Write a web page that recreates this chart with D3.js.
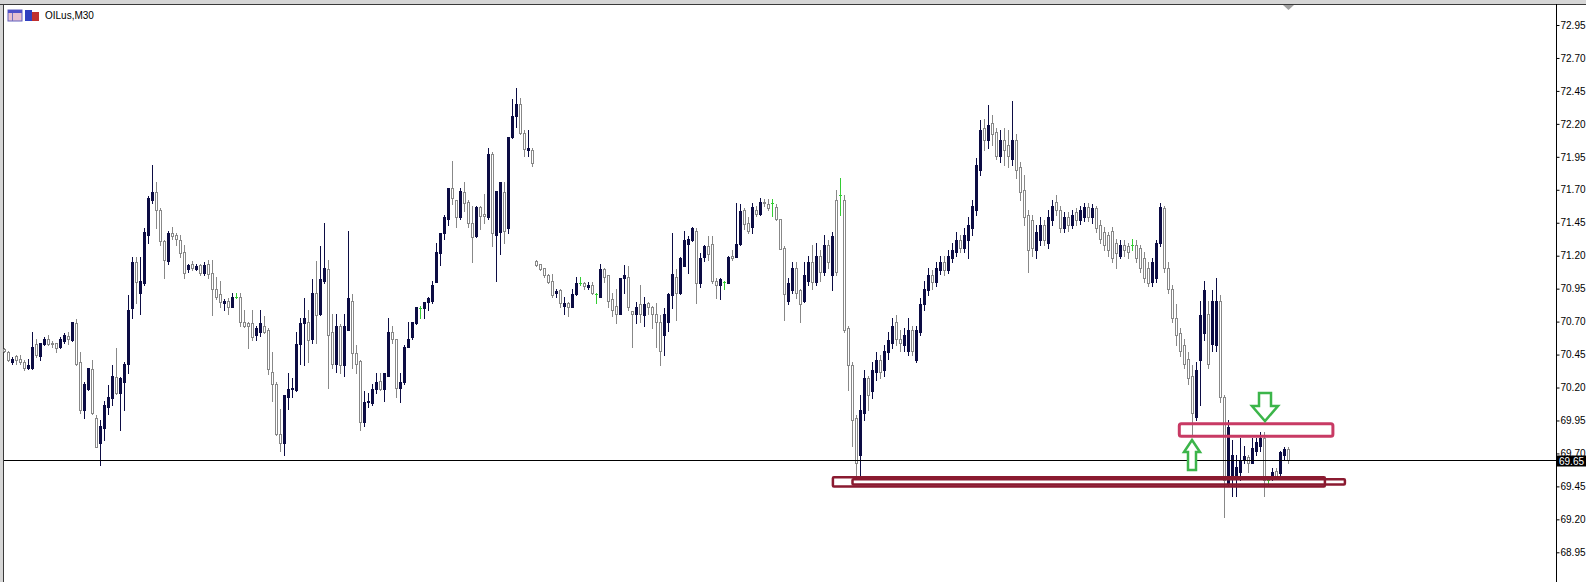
<!DOCTYPE html>
<html><head><meta charset="utf-8">
<script src="https://cdn.jsdelivr.net/npm/d3@7"></script>
<style>html,body{margin:0;padding:0;background:#fff;overflow:hidden}</style>
</head><body>
<svg id="c" width="1586" height="582"></svg>
<script>
const symbolLabel = "OILus,M30";
const lastPrice = 69.65;
const priceTicks = [72.95,72.70,72.45,72.20,71.95,71.70,71.45,71.20,70.95,70.70,70.45,70.20,69.95,69.70,69.45,69.20,68.95];

const opens = [
70.49,70.47,70.39,70.44,70.42,70.39,70.35,70.35,70.53,70.44,
70.53,70.57,70.54,70.54,70.51,70.55,70.59,70.56,70.69,70.39,
70.03,70.19,70.34,69.97,69.78,69.89,70.05,70.12,70.28,70.16,
70.24,70.38,70.80,71.15,70.92,70.99,71.36,71.62,71.68,71.55,
71.31,71.16,71.37,71.36,71.32,71.23,71.10,71.14,71.10,71.13,
71.07,71.14,71.07,70.95,70.91,70.84,70.86,70.81,70.89,70.89,
70.70,70.69,70.69,70.60,70.62,70.67,70.64,70.32,70.23,69.85,
69.78,70.13,70.19,70.18,70.53,70.69,70.70,70.57,70.92,70.76,
71.01,71.10,70.62,70.38,70.67,70.37,70.64,70.86,70.46,70.40,
69.94,70.09,70.08,70.19,70.25,70.19,70.29,70.62,70.57,70.20,
70.24,70.51,70.58,70.69,70.80,70.80,70.85,70.86,71.00,71.22,
71.37,71.48,71.71,71.62,71.49,71.68,71.61,71.45,71.35,71.57,
71.52,71.49,71.97,71.36,71.38,71.68,71.41,72.10,72.26,72.35,
72.13,72.00,72.00,71.16,71.14,71.11,71.05,71.01,70.92,70.94,
70.82,70.84,70.81,70.91,70.99,70.99,70.96,70.98,70.91,70.89,
71.10,71.05,70.87,70.82,70.76,71.03,71.04,70.78,70.76,70.83,
70.75,70.84,70.81,70.76,70.70,70.60,70.70,70.90,71.04,70.92,
71.12,71.29,71.32,71.39,70.99,71.19,71.27,71.29,71.01,70.98,
71.00,70.99,71.20,71.19,71.29,71.55,71.45,71.42,71.55,71.52,
71.61,71.59,71.60,71.57,71.48,71.26,70.86,70.94,71.11,70.94,
70.86,71.01,71.15,71.00,71.20,71.08,71.28,71.05,71.62,71.66,
71.62,70.65,70.37,69.97,69.69,70.01,70.27,70.17,70.32,70.41,
70.33,70.47,70.54,70.70,70.57,70.52,70.48,70.64,70.41,70.62,
70.83,70.94,71.05,71.00,71.09,71.15,71.09,71.18,71.23,71.32,
71.26,71.32,71.41,71.55,71.85,72.17,72.08,72.21,72.14,71.96,
72.08,72.04,71.93,72.08,71.87,71.70,71.51,71.47,71.24,71.32,
71.43,71.30,71.47,71.61,71.55,71.41,71.49,71.43,71.53,71.47,
71.49,71.57,71.49,71.56,71.43,71.38,71.36,71.39,71.30,71.20,
71.28,71.27,71.28,71.28,71.26,71.18,71.11,71.00,71.03,71.30,
71.56,71.11,70.95,70.73,70.61,70.52,70.42,70.29,69.98,70.41,
70.61,70.76,70.53,70.52,70.86,70.13,69.47,69.53,69.52,69.56,
69.65,69.67,69.63,69.72,69.76,69.82,69.50,69.52,69.57,69.55,
69.69,69.73];

const highs = [
70.50,70.48,70.43,70.45,70.45,70.41,70.42,70.62,70.57,70.54,
70.58,70.60,70.55,70.54,70.58,70.61,70.62,70.70,70.72,70.47,
70.24,70.35,70.41,69.99,69.95,70.10,70.22,70.37,70.50,70.28,
70.39,70.90,71.19,71.19,71.19,71.41,71.65,71.89,71.76,71.56,
71.32,71.39,71.42,71.37,71.36,71.28,71.14,71.16,71.14,71.14,
71.15,71.17,71.17,71.04,71.01,70.87,70.88,70.92,70.92,70.92,
70.79,70.70,70.79,70.67,70.79,70.74,70.65,70.47,70.24,70.04,
70.14,70.31,70.27,70.62,70.73,70.88,70.79,71.02,71.16,71.27,
71.45,71.17,70.76,70.76,70.68,70.76,71.39,70.91,70.52,70.41,
70.17,70.16,70.23,70.31,70.31,70.31,70.73,70.67,70.57,70.31,
70.52,70.70,70.70,70.81,70.82,70.85,70.89,71.01,71.30,71.37,
71.51,71.71,71.92,71.62,71.71,71.76,71.62,71.58,71.58,71.58,
71.67,72.02,71.99,71.69,71.76,71.76,72.10,72.39,72.47,72.40,
72.15,72.15,72.02,71.17,71.14,71.11,71.06,71.06,70.95,70.95,
70.89,70.85,70.95,71.04,71.04,71.00,71.00,71.00,70.92,71.14,
71.11,71.05,70.92,70.95,71.03,71.13,71.12,70.78,70.85,70.98,
70.89,70.85,70.82,70.84,70.75,70.80,70.92,71.37,71.10,71.19,
71.39,71.35,71.42,71.41,71.22,71.28,71.35,71.35,71.03,71.03,
71.01,71.20,71.24,71.60,71.59,71.56,71.49,71.60,71.58,71.64,
71.63,71.63,71.63,71.59,71.48,71.27,71.03,71.15,71.15,70.95,
71.15,71.20,71.28,71.30,71.24,71.36,71.32,71.38,71.70,71.79,
71.66,70.67,70.39,69.99,70.14,70.33,70.29,70.39,70.47,70.45,
70.52,70.62,70.73,70.75,70.64,70.65,70.73,70.67,70.67,70.88,
71.01,71.11,71.09,71.15,71.20,71.20,71.24,71.30,71.38,71.36,
71.41,71.49,71.62,71.94,72.23,72.24,72.34,72.27,72.17,72.15,
72.17,72.15,72.37,72.12,71.91,71.81,71.55,71.51,71.43,71.49,
71.47,71.55,71.62,71.66,71.58,71.53,71.53,71.55,71.56,71.58,
71.60,71.60,71.59,71.58,71.47,71.42,71.38,71.42,71.33,71.32,
71.32,71.30,71.33,71.32,71.28,71.23,71.15,71.18,71.32,71.60,
71.58,71.15,70.98,70.83,70.65,70.57,70.47,70.37,70.39,70.86,
71.01,70.86,70.94,71.03,70.90,70.14,69.95,69.80,69.69,69.82,
69.76,69.69,69.82,69.82,69.86,69.86,69.52,69.59,69.59,69.72,
69.75,69.75];

const lows = [
70.47,70.40,70.38,70.38,70.38,70.33,70.34,70.34,70.43,70.41,
70.52,70.52,70.51,70.47,70.50,70.54,70.53,70.55,70.37,70.01,
69.97,70.18,70.00,69.75,69.61,69.80,70.00,70.07,70.15,69.88,
70.03,70.31,70.73,70.84,70.76,70.98,71.30,71.60,71.41,71.28,
71.03,71.14,71.33,71.28,71.19,71.03,71.08,71.09,71.09,71.05,
71.05,71.03,70.75,70.87,70.81,70.79,70.76,70.81,70.88,70.67,
70.66,70.50,70.56,70.56,70.59,70.61,70.30,70.10,69.84,69.72,
69.69,70.04,70.13,70.17,70.38,70.37,70.39,70.54,70.54,70.75,
70.99,70.20,70.35,70.32,70.31,70.29,70.64,70.35,70.31,69.88,
69.91,70.05,70.07,70.16,70.18,70.10,70.29,70.54,70.13,70.09,
70.23,70.51,70.57,70.68,70.73,70.73,70.79,70.84,71.00,71.13,
71.33,71.43,71.59,71.42,71.48,71.54,71.42,71.15,71.34,71.40,
71.45,71.48,71.27,71.01,71.21,71.30,71.37,72.09,72.18,72.12,
71.96,71.96,71.88,71.12,71.09,71.04,70.99,70.89,70.89,70.81,
70.76,70.74,70.81,70.90,70.98,70.95,70.95,70.91,70.84,70.89,
71.00,70.81,70.74,70.69,70.76,70.92,70.79,70.51,70.69,70.70,
70.67,70.76,70.65,70.51,70.37,70.45,70.63,70.80,70.71,70.91,
71.12,71.07,71.31,70.84,70.96,71.16,71.17,70.99,70.88,70.87,
70.95,70.99,71.17,71.19,71.28,71.40,71.37,71.37,71.50,71.51,
71.58,71.55,71.50,71.47,71.25,70.71,70.83,70.92,70.88,70.70,
70.85,70.98,70.95,70.98,71.01,71.05,71.11,70.94,71.05,71.51,
70.62,70.18,69.76,69.51,69.53,69.95,70.03,70.12,70.26,70.27,
70.29,70.42,70.50,70.52,70.48,70.48,70.45,70.45,70.39,70.60,
70.79,70.90,70.95,70.97,71.06,71.05,71.07,71.15,71.20,71.23,
71.23,71.18,71.36,71.51,71.81,72.00,72.02,72.04,71.93,71.91,
71.89,71.87,71.89,71.79,71.62,71.43,71.08,71.20,71.18,71.28,
71.28,71.26,71.43,71.51,71.38,71.38,71.39,71.41,71.43,71.44,
71.46,71.46,71.45,71.38,71.30,71.24,71.20,71.15,71.11,71.18,
71.20,71.18,71.24,71.15,71.08,71.00,70.97,70.97,71.00,71.27,
71.08,70.92,70.70,70.52,70.44,70.35,70.23,69.85,69.95,70.07,
70.56,70.35,70.48,70.48,70.09,69.22,69.46,69.38,69.38,69.50,
69.63,69.56,69.63,69.69,69.72,69.38,69.46,69.50,69.51,69.52,
69.65,69.63];

const closes = [
70.48,70.41,70.42,70.41,70.39,70.35,70.37,70.51,70.45,70.54,
70.57,70.53,70.53,70.50,70.57,70.60,70.57,70.70,70.38,70.03,
70.23,70.35,70.01,69.75,69.91,70.07,70.13,70.29,70.16,70.27,
70.38,70.79,71.15,71.00,71.01,71.38,71.64,71.68,71.55,71.31,
71.17,71.37,71.35,71.33,71.22,71.07,71.13,71.11,71.12,71.07,
71.13,71.06,70.95,70.89,70.85,70.86,70.81,70.89,70.89,70.70,
70.67,70.67,70.58,70.65,70.69,70.62,70.34,70.23,69.85,69.78,
70.14,70.19,70.20,70.53,70.69,70.73,70.56,70.92,70.75,71.02,
71.11,70.60,70.38,70.67,70.37,70.67,70.88,70.46,70.38,69.94,
70.09,70.10,70.19,70.24,70.19,70.31,70.62,70.57,70.20,70.24,
70.51,70.57,70.70,70.81,70.80,70.85,70.88,70.98,71.23,71.37,
71.49,71.71,71.64,71.49,71.69,71.60,71.45,71.34,71.57,71.50,
71.50,71.97,71.37,71.69,71.76,71.39,72.10,72.26,72.35,72.13,
72.01,72.02,71.90,71.13,71.10,71.05,71.00,70.90,70.93,70.84,
70.84,70.81,70.91,70.99,70.99,70.97,70.98,70.92,70.91,71.10,
71.04,70.86,70.79,70.76,71.03,71.05,70.81,70.76,70.81,70.76,
70.83,70.81,70.76,70.70,70.48,70.76,70.91,71.06,70.92,71.18,
71.32,71.33,71.41,70.99,71.18,71.27,71.21,71.01,70.98,71.02,
71.00,71.19,71.18,71.29,71.54,71.44,71.39,71.57,71.52,71.61,
71.60,71.56,71.60,71.48,71.25,70.91,70.99,71.11,70.92,70.83,
71.05,71.15,71.00,71.20,71.08,71.28,71.15,71.35,71.08,71.66,
70.64,70.37,69.95,69.63,70.03,70.27,70.14,70.33,70.41,70.32,
70.48,70.56,70.67,70.57,70.54,70.60,70.64,70.48,70.64,70.83,
70.95,71.05,71.00,71.11,71.15,71.09,71.20,71.24,71.32,71.26,
71.36,71.43,71.58,71.89,72.15,72.08,72.19,72.12,71.96,72.08,
72.00,71.96,72.08,71.85,71.68,71.49,71.24,71.26,71.38,71.43,
71.32,71.49,71.58,71.55,71.41,71.49,71.43,71.51,71.47,71.55,
71.57,71.49,71.56,71.41,71.33,71.28,71.24,71.18,71.22,71.28,
71.24,71.23,71.28,71.18,71.11,71.03,70.99,71.15,71.30,71.57,
71.11,70.95,70.73,70.60,70.48,70.38,70.27,70.01,70.33,70.75,
70.94,70.38,70.86,70.86,70.13,69.50,69.90,69.69,69.60,69.65,
69.68,69.63,69.74,69.79,69.82,69.50,69.50,69.56,69.52,69.71,
69.73,69.65];

// Annotation drawings (bar index range / price range)
const supportZoneOuter = {from: 207.1, to: 330.1, top: 69.52, bottom: 69.45};
const supportZoneInner = {from: 212, to: 335.1, top: 69.505, bottom: 69.465};
const resistZone = {from: 293.7, to: 332.1, top: 69.925, bottom: 69.83};

const NAVY = "#0c0c44", GRAY = "#888888", GREEN = "#33cc33";
const svg = d3.select("#c");
const N = opens.length;
const x = d3.scaleLinear().domain([0, N - 1]).range([4.5, 4.5 + 4 * (N - 1)]);
const y = d3.scaleLinear().domain([68.95, 72.95]).range([552.3, 25]);
const AXIS_X = 1556.5;

// window frame
svg.append("rect").attr("x", 0).attr("y", 0).attr("width", 1586).attr("height", 4).attr("fill", "#d6d6d6");
svg.append("rect").attr("x", 0).attr("y", 0).attr("width", 3).attr("height", 582).attr("fill", "#d6d6d6");
svg.append("line").attr("x1", 0).attr("x2", 1586).attr("y1", 4.5).attr("y2", 4.5).attr("stroke", "#3a3a3a");
svg.append("line").attr("x1", 3.5).attr("x2", 3.5).attr("y1", 4).attr("y2", 582).attr("stroke", "#3a3a3a");

const plot = svg.append("g");
const R = v => Math.round(v);

for (let i = 0; i < N; i++) {
  const o = opens[i], h = highs[i], l = lows[i], c = closes[i];
  const cx = x(i);
  const yH = R(y(h)), yL = R(y(l));
  const yT = R(y(Math.max(o, c))), yB = R(y(Math.min(o, c)));
  if (o === c) {
    plot.append("line").attr("x1", cx).attr("x2", cx).attr("y1", yH).attr("y2", yL + 1).attr("stroke", GREEN);
    plot.append("line").attr("x1", cx - 1.5).attr("x2", cx + 1.5).attr("y1", yT + 0.5).attr("y2", yT + 0.5).attr("stroke", GREEN);
  } else if (c > o) {
    plot.append("line").attr("x1", cx).attr("x2", cx).attr("y1", yH).attr("y2", yL + 1).attr("stroke", NAVY);
    plot.append("rect").attr("x", cx - 1.5).attr("y", yT).attr("width", 3).attr("height", Math.max(1, yB - yT + 1)).attr("fill", NAVY);
  } else {
    plot.append("line").attr("x1", cx).attr("x2", cx).attr("y1", yH).attr("y2", yL + 1).attr("stroke", GRAY);
    plot.append("rect").attr("x", cx - 1).attr("y", yT + 0.5).attr("width", 2).attr("height", Math.max(1, yB - yT))
      .attr("fill", "#fff").attr("stroke", GRAY).attr("stroke-width", 1);
  }
}

// current price line
const yLast = R(y(lastPrice)) + 0.5;
svg.append("line").attr("x1", 4).attr("x2", AXIS_X).attr("y1", yLast).attr("y2", yLast).attr("stroke", "#000");

// price axis
const axis = d3.axisRight(y).tickValues(priceTicks).tickFormat(d3.format(".2f")).tickSize(3).tickSizeOuter(0).tickPadding(1);
const ag = svg.append("g").attr("transform", `translate(${AXIS_X},0)`).call(axis);
ag.select(".domain").remove();
ag.selectAll(".tick line").attr("stroke", "#000");
ag.selectAll(".tick text").attr("fill", "#000").attr("font-family", "Liberation Sans, Arial, sans-serif").attr("font-size", "10px");
svg.append("line").attr("x1", AXIS_X).attr("x2", AXIS_X).attr("y1", 4).attr("y2", 582).attr("stroke", "#000");

// current price label
svg.append("rect").attr("x", 1557).attr("y", yLast - 5).attr("width", 29).attr("height", 11).attr("fill", "#000");
svg.append("text").attr("x", 1559).attr("y", yLast + 4).attr("fill", "#fff")
  .attr("font-family", "Liberation Sans, Arial, sans-serif").attr("font-size", "10px").text(lastPrice.toFixed(2));

// shift marker
svg.append("path").attr("d", "M1283,5 L1294,5 L1288.5,10 Z").attr("fill", "#a0a0a0");

// annotations
function zone(z, color, sw, rx) {
  svg.append("rect").attr("x", x(z.from)).attr("y", y(z.top)).attr("width", x(z.to) - x(z.from))
    .attr("height", y(z.bottom) - y(z.top)).attr("fill", "none").attr("stroke", color).attr("stroke-width", sw).attr("rx", rx);
}
zone(supportZoneOuter, "#8a1a30", 2.5, 1);
zone(supportZoneInner, "#8a1a30", 2.5, 1);
zone(resistZone, "#c83a64", 3, 2);

svg.append("polygon").attr("points", "1192,440 1200,452 1196,452 1196,470 1188,470 1188,452 1184,452")
  .attr("fill", "#fff").attr("stroke", "#3cb54a").attr("stroke-width", 2.5).attr("stroke-linejoin", "miter");
svg.append("polygon").attr("points", "1259,393 1271,393 1271,406 1278,406 1265,421 1252,406 1259,406")
  .attr("fill", "#fff").attr("stroke", "#3cb54a").attr("stroke-width", 2.5).attr("stroke-linejoin", "miter");

// title with icons
const ic = svg.append("g");
ic.append("rect").attr("x", 8).attr("y", 10).attr("width", 14).attr("height", 11).attr("fill", "#e8c0d0").attr("stroke", "#6060c0");
ic.append("rect").attr("x", 8).attr("y", 10).attr("width", 14).attr("height", 3).attr("fill", "#5050c8");
ic.append("line").attr("x1", 12.5).attr("x2", 12.5).attr("y1", 13).attr("y2", 21).attr("stroke", "#7070c0");
ic.append("rect").attr("x", 25).attr("y", 10).attr("width", 7).attr("height", 11).attr("fill", "#3040c0");
ic.append("rect").attr("x", 32).attr("y", 12).attr("width", 7).attr("height", 9).attr("fill", "#c03030");
svg.append("text").attr("x", 45).attr("y", 19).attr("font-family", "Liberation Sans, Arial, sans-serif")
  .attr("font-size", "10px").attr("fill", "#000").text(symbolLabel);
</script>
</body></html>
